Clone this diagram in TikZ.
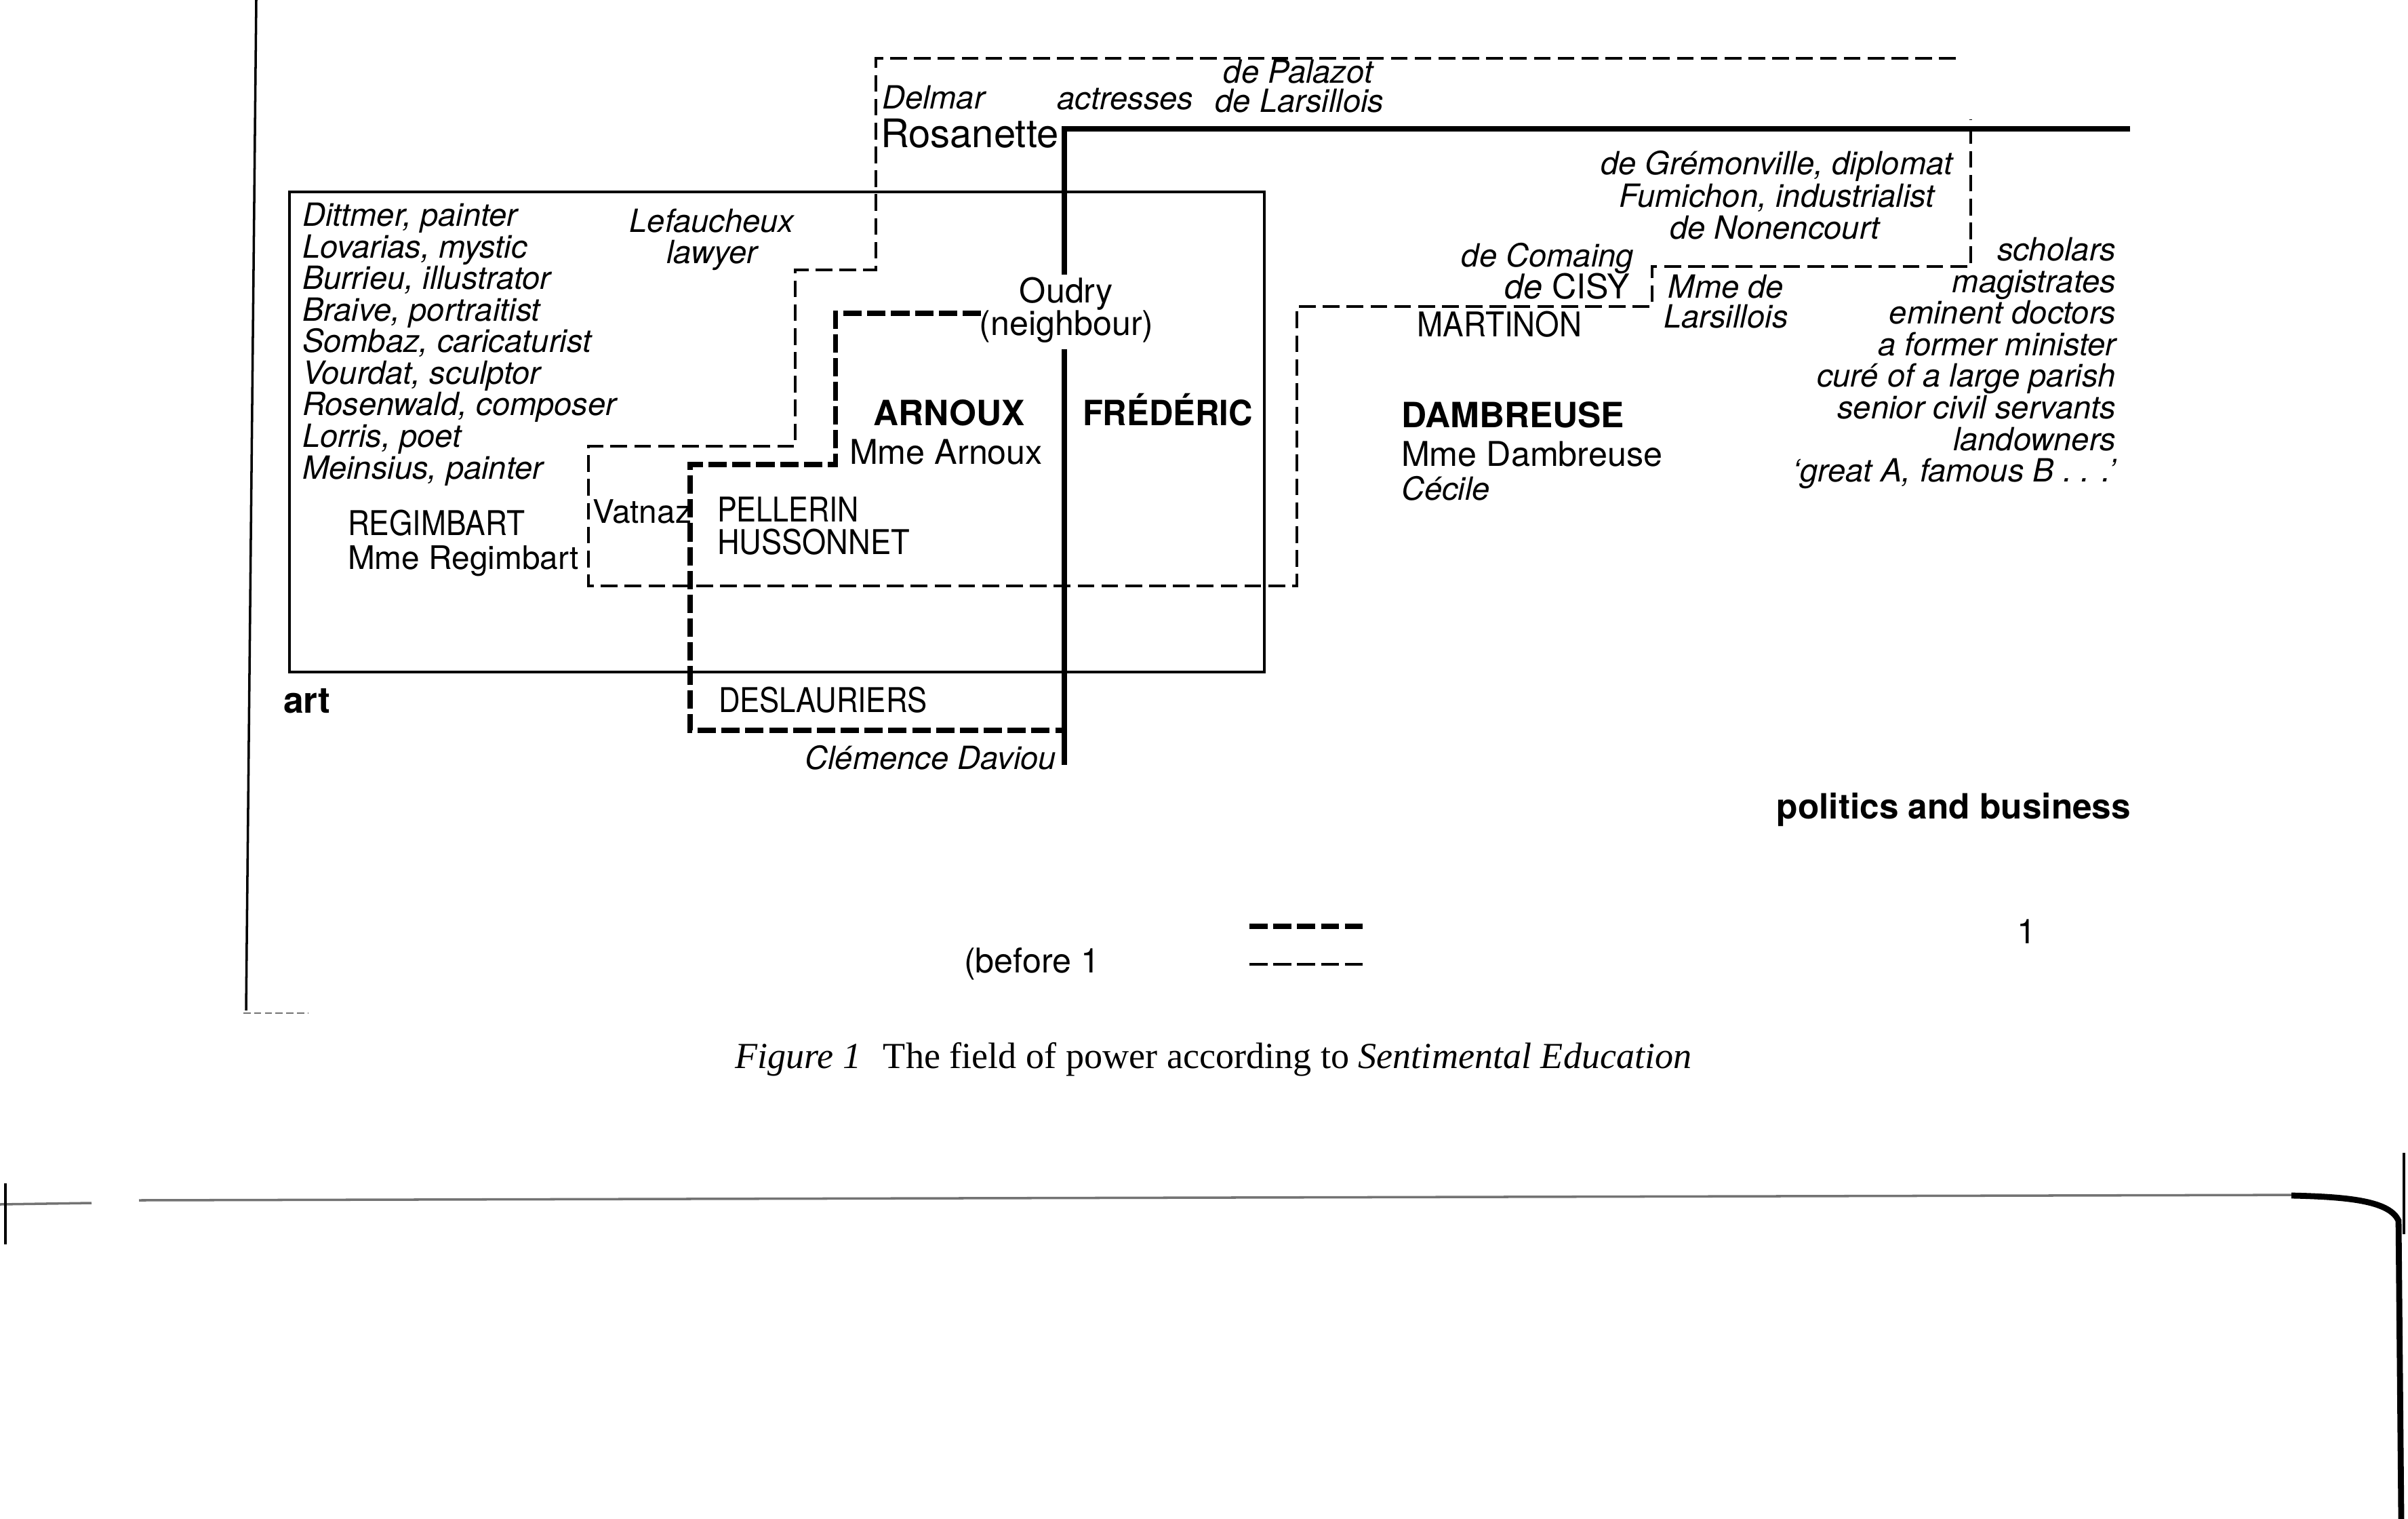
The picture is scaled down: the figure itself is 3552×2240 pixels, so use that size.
\documentclass[tikz,border=0pt]{standalone}
\usepackage{graphicx}
\usepackage{fontspec}
\setmainfont{TeX Gyre Heros}
\newfontfamily\capfont{Liberation Serif}
\newcommand{\narrowcaps}[2][0.88]{\scalebox{#1}[1]{#2}}
\begin{document}
\begin{tikzpicture}[x=0.01cm,y=-0.01cm,
  up/.style={font=\fontsize{14.3pt}{16pt}\selectfont, inner sep=0pt, outer sep=0pt},
  it/.style={font=\fontsize{13.4pt}{16pt}\selectfont\itshape, inner sep=0pt, outer sep=0pt},
  bfx/.style={font=\fontsize{14.6pt}{16pt}\selectfont\bfseries, inner sep=0pt, outer sep=0pt},
  big/.style={font=\fontsize{16.5pt}{18pt}\selectfont, inner sep=0pt, outer sep=0pt},
  thinsolid/.style={line width=1pt},
  thicksolid/.style={line width=2.1pt},
  thindash/.style={line width=1pt, dash pattern=on 7pt off 3pt},
  thickdash/.style={line width=2pt, dash pattern=on 7.7pt off 2.3pt},
  scan/.style={line width=1pt, black!55}]
\useasboundingbox (0,0) rectangle (3552,2240);

% page border line (left)
\draw[line width=1pt] (378,0) -- (363,1490);
\draw[scan, line width=0.6pt, dash pattern=on 3pt off 1.5pt] (359,1494) -- (454,1494);

% art box
\draw[thinsolid] (427,283) rectangle (1865,991);

% thin dashed region
\draw[thindash] (2885,86) -- (1292,86) -- (1292,398) -- (1173,398) -- (1173,658)
  -- (868,658) -- (868,864) -- (1913,864) -- (1913,452) -- (2437,452)
  -- (2437,393) -- (2907,393) -- (2907,176);

% thick dashed region
\draw[thickdash] (1447,462) -- (1232,462) -- (1232,685) -- (1018,685)
  -- (1018,1077) -- (1566,1077);

% thick solid line (Frederic)
\draw[thicksolid] (3142,190) -- (1570,190) -- (1570,405);
\draw[thicksolid] (1570,515) -- (1570,1128);

% left list (art)
\foreach \t [count=\i] in {{Dittmer, painter},{Lovarias, mystic},{Burrieu, illustrator},
  {Braive, portraitist},{Sombaz, caricaturist},{Vourdat, sculptor},
  {Rosenwald, composer},{Lorris, poet},{Meinsius, painter}}
  \node[it, anchor=base west] (artist\i) at (446,{334+46.5*(\i-1)}) {\t};

% right list
\foreach \t [count=\i] in {{scholars},{magistrates},{eminent doctors},{a former minister},
  {curé of a large parish},{senior civil servants},{landowners},{‘great A, famous B . . .’}}
  \node[it, anchor=base east] (pol\i) at (3121,{385+46.5*(\i-1)}) {\t};

% top texts
\node[it, anchor=base] (lef1) at (1050,343) {Lefaucheux};
\node[it, anchor=base] (lef2) at (1050,389) {lawyer};
\node[it, anchor=base west] (delmar) at (1301,161) {Delmar};
\node[big, anchor=base west] (rosanette) at (1299,218) {Rosanette};
\node[it, anchor=base] (actresses) at (1660,162) {actresses};
\node[it, anchor=base] (palazot) at (1915,123) {de Palazot};
\node[it, anchor=base] (larsillois) at (1917,166) {de Larsillois};
\node[up, anchor=base] (oudry) at (1573,447) {Oudry};
\node[up, anchor=base] (neighbour) at (1573,495) {(neighbour)};

\node[it, anchor=base] (gremon) at (2621,258) {de Grémonville, diplomat};
\node[it, anchor=base] (fumichon) at (2621,306) {Fumichon, industrialist};
\node[it, anchor=base] (nonen) at (2618,353) {de Nonencourt};
\node[it, anchor=base east] (comaing) at (2410,394) {de Comaing};
\node[up, anchor=base east] (cisy) at (2404,441) {\itshape de \upshape CISY};
\node[it, anchor=base] (mmede) at (2546,440) {Mme de};
\node[it, anchor=base] (mmelars) at (2546,484) {Larsillois};
\node[up, anchor=base] (martinon) at (2212,497) {\narrowcaps[0.91]{MARTINON}};

% centre
\node[bfx, anchor=base] (arnoux) at (1400,628) {ARNOUX};
\node[up, anchor=base west] (mmearnoux) at (1253,685) {Mme Arnoux};
\node[bfx, anchor=base west] (frederic) at (1597,628) {\narrowcaps[0.955]{FRÉDÉRIC}};
\node[bfx, anchor=base west] (dambreuse) at (2067,630) {DAMBREUSE};
\node[up, anchor=base west] (mmedamb) at (2067,687) {Mme Dambreuse};
\node[it, anchor=base west] (cecile) at (2067,737) {Cécile};

\node[up, anchor=base west] (regimbart) at (513,789) {\narrowcaps{REGIMBART}};
\node[up, font=\fontsize{13.6pt}{16pt}\selectfont, anchor=base west] (mmeregim) at (513,839) {Mme Regimbart};
\node[up, font=\fontsize{13.6pt}{16pt}\selectfont, anchor=base west] (vatnaz) at (874,771) {Vatnaz};
\node[up, anchor=base west] (pellerin) at (1058,769) {\narrowcaps[0.86]{PELLERIN}};
\node[up, anchor=base west] (husson) at (1058,817) {\narrowcaps[0.9]{HUSSONNET}};
\node[up, anchor=base west] (deslaur) at (1060,1050) {\narrowcaps[0.87]{DESLAURIERS}};
\node[it, anchor=base east] (clemence) at (1558,1134) {Clémence Daviou};

\node[bfx, font=\fontsize{15.2pt}{17pt}\selectfont\bfseries, anchor=base west] (art) at (418,1051) {art};
\node[bfx, anchor=base east] (politics) at (3143,1207) {politics and business};

% legend
\coordinate (lgA1) at (1843,1366);
\coordinate (lgA2) at (2010,1366);
\coordinate (lgB1) at (1843,1422);
\coordinate (lgB2) at (2010,1422);
\draw[line width=2.2pt, dash pattern=on 7.6pt off 2.4pt] (lgA1) -- (lgA2);
\draw[line width=1.1pt, dash pattern=on 7.6pt off 2.4pt] (lgB1) -- (lgB2);
\node[up, anchor=base west] (before) at (1422,1434) {(before 1};
\node[up, anchor=base] (one) at (2989,1391) {1};

% caption
\node[inner sep=0pt, anchor=base, font=\fontsize{15.4pt}{18pt}\capfont] (caption) at (1790,1575)
  {\textit{Figure 1}\hspace{0.6em}The field of power according to \textit{Sentimental Education}};

% scan edges
\draw[scan] (0,1776) -- (135,1774);
\draw[line width=1.2pt] (8,1745) -- (8,1835);
\draw[scan] (205,1770) -- (3420,1762);
\draw[line width=2.5pt] (3380,1763) .. controls (3470,1765) and (3525,1772) .. (3538,1800) -- (3542,2240);
\draw[line width=1.2pt] (3546,1700) -- (3546,1820);
\end{tikzpicture}
\end{document}
